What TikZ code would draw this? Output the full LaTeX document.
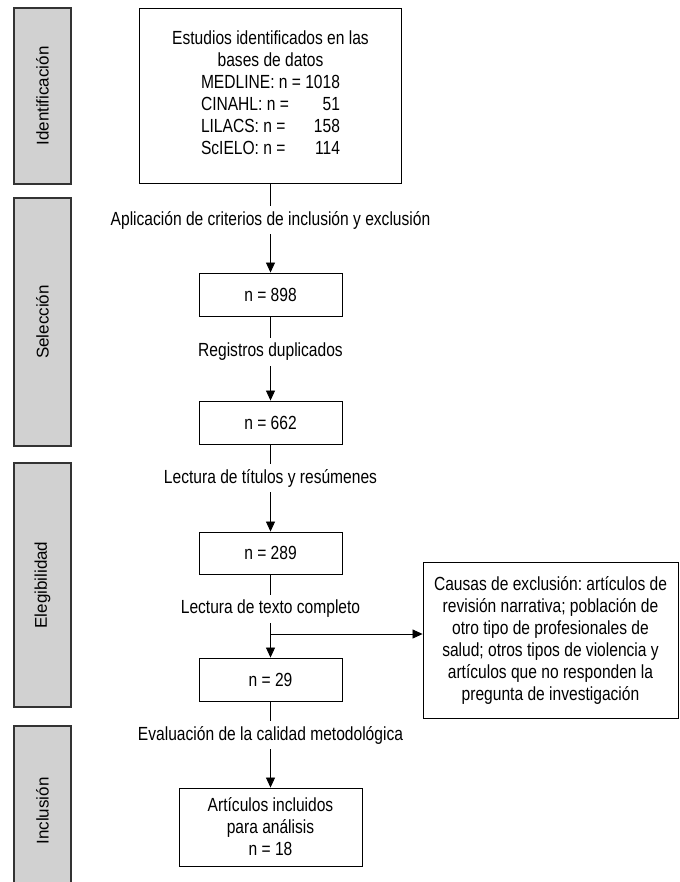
\documentclass[tikz,border=0pt]{standalone}
\usepackage{fontspec}
\setmainfont[FakeStretch=0.82]{Liberation Sans}
\newfontfamily\phasefont{Liberation Sans}
\usetikzlibrary{arrows.meta}
\frenchspacing
\tikzset{
    phase/.style={draw=black!80, fill=black!18, line width=1.2pt, rotate=90,
        minimum height=57pt, inner sep=0pt, font=\phasefont\fontsize{17}{20}\selectfont},
    stepbox/.style={draw, line width=0.9pt, align=center, inner sep=0pt,
        font=\fontsize{19}{22}\selectfont},
    lbl/.style={inner sep=0pt, minimum height=28pt, font=\fontsize{19}{22}\selectfont},
    arr/.style={-{Triangle[width=9pt,length=10pt]}, line width=0.8pt},
    con/.style={line width=0.8pt}
}
\begin{document}
\begin{tikzpicture}[x=1pt,y=-1pt]
    \useasboundingbox (0,0) rectangle (679,882);

    % Phases
    \node[phase, minimum width=176pt] (idf) at (42.5,96) {Identificación};
    \node[phase, minimum width=248pt] (sel) at (42.5,322) {Selección};
    \node[phase, minimum width=244pt] (ele) at (42.5,585) {Elegibilidad};
    \node[phase, minimum width=170pt] (inc) at (42.5,811) {Inclusión};

    % Boxes
    \node[stepbox, minimum width=262pt, minimum height=175pt] (src) at (270.5,95.5)
        {Estudios identificados en las\\ bases de datos\\
        \begin{tabular}[t]{@{}l@{\ }r@{}}
            MEDLINE: n = & 1018\\
            CINAHL: n = & 51\\
            LILACS: n = & 158\\
            ScIELO: n = & 114
        \end{tabular}};
    \node[stepbox, minimum width=143pt, minimum height=43pt] (n898) at (270.5,294.5) {n = 898};
    \node[stepbox, minimum width=143pt, minimum height=43pt] (n662) at (270.5,422.5) {n = 662};
    \node[stepbox, minimum width=143pt, minimum height=42pt] (n289) at (270.5,553) {n = 289};
    \node[stepbox, minimum width=143pt, minimum height=43pt] (n29) at (270.5,679.5) {n = 29};
    \node[stepbox, minimum width=183pt, minimum height=78pt] (fin) at (270.5,827)
        {Artículos incluidos\\ para análisis\\ n = 18};
    \node[stepbox, minimum width=255pt, minimum height=156pt] (exc) at (550.5,640)
        {Causas de exclusión: artículos de\\ revisión narrativa; población de\\
        otro tipo de profesionales de\\ salud; otros tipos de violencia y\\
        artículos que no responden la\\ pregunta de investigación};

    % Labels
    \node[lbl] (lab1) at (270.5,220) {Aplicación de criterios de inclusión y exclusión};
    \node[lbl] (lab2) at (270.5,352) {Registros duplicados};
    \node[lbl] (lab3) at (270.5,478) {Lectura de títulos y resúmenes};
    \node[lbl] (lab4) at (270.5,609) {Lectura de texto completo};
    \node[lbl] (lab5) at (270.5,735) {Evaluación de la calidad metodológica};
    \coordinate (br) at (270.5,634);

    % Connections
    \draw[con] (src) -- (lab1);
    \draw[arr] (lab1) -- (n898);
    \draw[con] (n898) -- (lab2);
    \draw[arr] (lab2) -- (n662);
    \draw[con] (n662) -- (lab3);
    \draw[arr] (lab3) -- (n289);
    \draw[con] (n289) -- (lab4);
    \draw[arr] (lab4) -- (n29);
    \draw[arr] (br) -- (br -| exc.west);
    \draw[con] (n29) -- (lab5);
    \draw[arr] (lab5) -- (fin);
\end{tikzpicture}
\end{document}
